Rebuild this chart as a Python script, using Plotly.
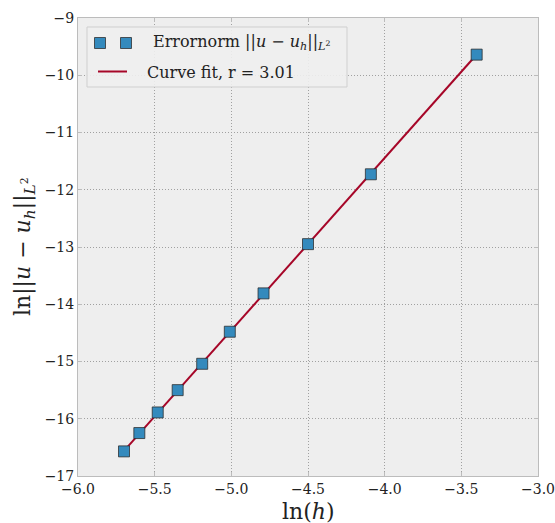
import numpy as np
import plotly.graph_objects as go

# log of mesh size and log of the L2 error norm
ln_h = [-5.70, -5.60, -5.48, -5.35, -5.19, -5.01, -4.79, -4.50, -4.09, -3.40]
ln_err = [-16.57, -16.25, -15.89, -15.50, -15.04, -14.48, -13.81, -12.95, -11.73, -9.64]
rate = 3.01

x_ticks = [-6.0, -5.5, -5.0, -4.5, -4.0, -3.5, -3.0]
y_ticks = [-17, -16, -15, -14, -13, -12, -11, -10, -9]

BLUE = "#348ABD"
RED = "#A60628"
BG = "#EEEEEE"
SERIF = "DejaVu Serif"

# fitted line with the stated slope through the data centroid
xa = np.array(ln_h)
ya = np.array(ln_err)
intercept = ya.mean() - rate * xa.mean()
fit_x = np.array([xa.min(), xa.max()])
fit_y = rate * fit_x + intercept

fig = go.Figure()
fig.add_trace(go.Scatter(
    x=fit_x, y=fit_y, mode="lines",
    line=dict(color=RED, width=2), showlegend=False, hoverinfo="skip"))
fig.add_trace(go.Scatter(
    x=ln_h, y=ln_err, mode="markers",
    marker=dict(symbol="square", size=11, color=BLUE,
                line=dict(color="rgba(40,40,40,0.75)", width=1)),
    showlegend=False))

# plot-area geometry in pixels
W, H = 555, 523
L, R, T, B = 78, 17, 18, 47
PW, PH = W - L - R, H - T - B


def px(xp):
    return (xp - L) / PW


def py(yp):
    return (H - B - yp) / PH


axis_common = dict(
    showline=True, mirror="ticks", linecolor="#bcbcbc", linewidth=1,
    showgrid=True, gridcolor="#a0a0a0", griddash="1px,2px", gridwidth=1,
    ticks="inside", ticklen=4, tickcolor="#bcbcbc",
    zeroline=False, automargin=False,
    tickfont=dict(family=SERIF, size=14, color="#222222"),
)

fig.update_xaxes(range=[-6, -3], tickvals=x_ticks, tickformat=".1f", **axis_common)
fig.update_yaxes(range=[-17, -9], tickvals=y_ticks, tickformat="d", **axis_common)

shapes = []
annotations = []

# legend frame
shapes.append(dict(
    type="rect", xref="paper", yref="paper",
    x0=px(87), x1=px(347), y0=py(87), y1=py(27),
    line=dict(color="#cfcfcf", width=1), fillcolor="rgba(238,238,238,0.9)",
    layer="above"))
# legend glyphs: two squares for the error norm, a short line for the fit
for cx in (100, 126):
    shapes.append(dict(
        type="rect", xref="paper", yref="paper",
        x0=px(cx - 5.5), x1=px(cx + 5.5), y0=py(43 + 5.5), y1=py(43 - 5.5),
        line=dict(color="rgba(40,40,40,0.75)", width=1), fillcolor=BLUE,
        layer="above"))
shapes.append(dict(
    type="line", xref="paper", yref="paper",
    x0=px(98), x1=px(127), y0=py(71.5), y1=py(71.5),
    line=dict(color=RED, width=2), layer="above"))

annotations.append(dict(
    xref="paper", yref="paper", x=px(151), y=py(43),
    xanchor="left", yanchor="middle", showarrow=False,
    text="Errornorm ||<i>u</i> − <i>u<sub>h</sub></i>||<sub><i>L</i><sup>2</sup></sub>",
    font=dict(family=SERIF, size=16, color="#222222")))
annotations.append(dict(
    xref="paper", yref="paper", x=px(145), y=py(72),
    xanchor="left", yanchor="middle", showarrow=False,
    text="Curve fit, r = 3.01",
    font=dict(family=SERIF, size=16, color="#222222")))

# axis titles
annotations.append(dict(
    xref="paper", yref="paper", x=px(308), y=py(511),
    xanchor="center", yanchor="middle", showarrow=False,
    text="ln(<i>h</i>)", font=dict(family=SERIF, size=22, color="#222222")))
annotations.append(dict(
    xref="paper", yref="paper", x=px(24), y=py(247),
    xanchor="center", yanchor="middle", showarrow=False, textangle=-90,
    text="ln||<i>u</i> − <i>u<sub>h</sub></i>||<sub><i>L</i><sup>2</sup></sub>",
    font=dict(family=SERIF, size=22, color="#222222")))

fig.update_layout(
    width=W, height=H,
    margin=dict(l=L, r=R, t=T, b=B),
    paper_bgcolor="white", plot_bgcolor=BG,
    shapes=shapes, annotations=annotations,
    showlegend=False,
)

fig.write_html("out.html")
